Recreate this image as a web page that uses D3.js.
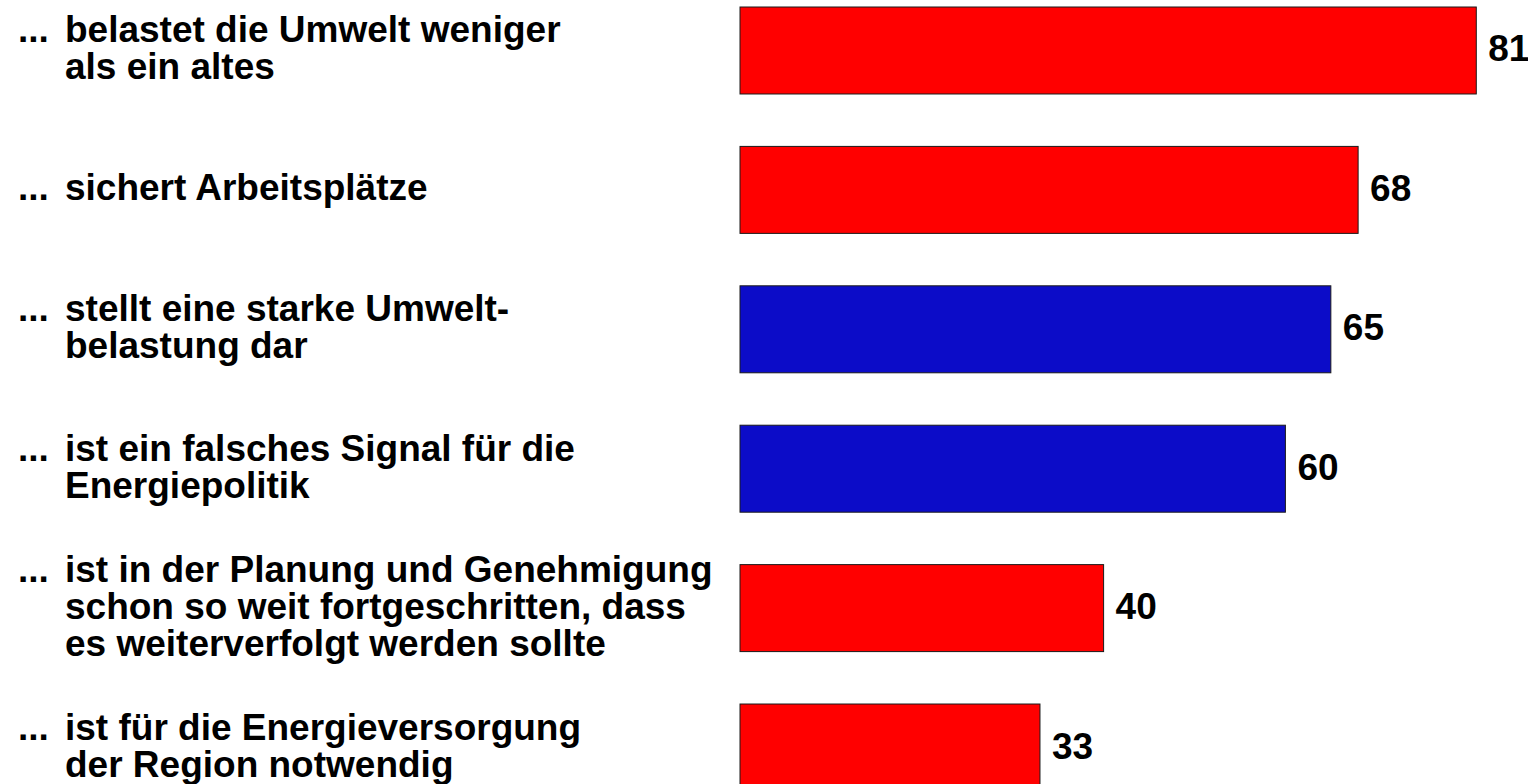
<!DOCTYPE html>
<html>
<head>
<meta charset="utf-8">
<script src="https://cdn.jsdelivr.net/npm/d3@7"></script>
<style>
  html, body { margin: 0; padding: 0; background: #fff; }
  svg { display: block; }
  text { font-family: "Liberation Sans", Arial, Helvetica, sans-serif; font-weight: bold; fill: #000; }
</style>
</head>
<body>
<script>
// labels, one array entry per line
const labels = [
  ["belastet die Umwelt weniger", "als ein altes"],
  ["sichert Arbeitsplätze"],
  ["stellt eine starke Umwelt-", "belastung dar"],
  ["ist ein falsches Signal für die", "Energiepolitik"],
  ["ist in der Planung und Genehmigung", "schon so weit fortgeschritten, dass", "es weiterverfolgt werden sollte"],
  ["ist für die Energieversorgung", "der Region notwendig"]
];
const values = [81, 68, 65, 60, 40, 33];
const groups = ["pro", "pro", "contra", "contra", "pro", "pro"];

const width = 1528, height = 784;
const fontSize = 37, lineH = 37;

const svg = d3.select("body").append("svg")
  .attr("width", width)
  .attr("height", height);

const idx = d3.range(values.length);

const y = d3.scaleBand()
  .domain(idx)
  .range([7, 791])
  .paddingInner(0.376)
  .paddingOuter(0);

const x = d3.scaleLinear()
  .domain([0, 100])
  .range([740, 740 + 909]);

const color = d3.scaleOrdinal()
  .domain(["pro", "contra"])
  .range(["#ff0000", "#0c0cc8"]);

// bars
svg.selectAll("rect.bar")
  .data(idx)
  .enter()
  .append("rect")
  .attr("class", "bar")
  .attr("x", x(0))
  .attr("y", i => y(i))
  .attr("width", i => x(values[i]) - x(0))
  .attr("height", y.bandwidth())
  .attr("fill", i => color(groups[i]))
  .attr("stroke", "#1a1a1a")
  .attr("stroke-width", 1);

// value labels
svg.selectAll("text.val")
  .data(idx)
  .enter()
  .append("text")
  .attr("class", "val")
  .attr("x", i => x(values[i]) + 12)
  .attr("y", i => y(i) + y.bandwidth() / 2 + 11)
  .attr("font-size", fontSize)
  .text(i => values[i]);

// category labels
const lab = svg.selectAll("g.lab")
  .data(idx)
  .enter()
  .append("g")
  .attr("class", "lab")
  .attr("transform", i => {
    const c = y(i) + y.bandwidth() / 2;
    const first = c - (labels[i].length - 1) / 2 * lineH + 10.5;
    return `translate(0,${first})`;
  });

lab.append("text")
  .attr("x", 18)
  .attr("y", 0)
  .attr("font-size", fontSize)
  .text("...");

lab.each(function(i) {
  d3.select(this).selectAll("text.line")
    .data(labels[i])
    .enter()
    .append("text")
    .attr("class", "line")
    .attr("x", 65)
    .attr("y", (d, k) => k * lineH)
    .attr("font-size", fontSize)
    .text(d => d);
});
</script>
</body>
</html>
